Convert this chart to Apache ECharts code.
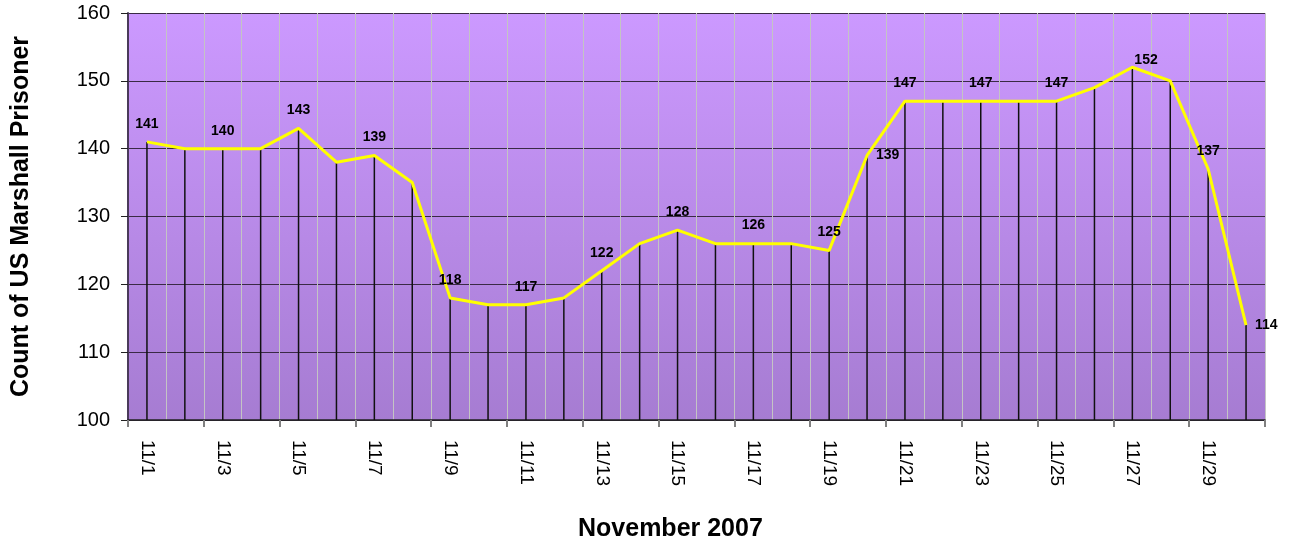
<!DOCTYPE html>
<html>
<head>
<meta charset="utf-8">
<script src="https://cdn.jsdelivr.net/npm/echarts@6/dist/echarts.min.js"></script>
<style>
  html, body { margin: 0; padding: 0; background: #fff; }
  #container { width: 1292px; height: 548px; }
</style>
</head>
<body>
<div id="container"></div>
<script>
var days = ['11/1','11/2','11/3','11/4','11/5','11/6','11/7','11/8','11/9','11/10',
            '11/11','11/12','11/13','11/14','11/15','11/16','11/17','11/18','11/19','11/20',
            '11/21','11/22','11/23','11/24','11/25','11/26','11/27','11/28','11/29','11/30'];

var prisoners = [141, 140, 140, 140, 143, 138, 139, 135, 118, 117,
                 117, 118, 122, 126, 128, 126, 126, 126, 125, 139,
                 147, 147, 147, 147, 147, 149, 152, 150, 137, 114];

// days whose value is written on the chart
var labelledDays = ['11/1','11/3','11/5','11/7','11/9','11/11','11/13','11/15','11/17','11/19',
                    '11/20','11/21','11/23','11/25','11/27','11/29','11/30'];
// these ones sit to the right of the point instead of above
var rightLabelDays = ['11/20', '11/30'];
// peak label sits up and to the right
var upRightLabelDays = ['11/27'];

var yTicks = [100, 110, 120, 130, 140, 150, 160];

var myChart = echarts.init(document.getElementById('container'));

var lineData = prisoners.map(function (v, i) {
    var d = days[i];
    var item = { value: v };
    if (labelledDays.indexOf(d) < 0) {
        item.label = { show: false };
    } else if (rightLabelDays.indexOf(d) >= 0) {
        item.label = { show: true, position: 'right', distance: 8 };
    } else if (upRightLabelDays.indexOf(d) >= 0) {
        item.label = { show: true, position: [3, -13] };
    }
    return item;
});

var option = {
    animation: false,
    grid: {
        left: 128,
        right: 27,
        top: 13,
        bottom: 128,
        show: true,
        borderWidth: 0,
        backgroundColor: new echarts.graphic.LinearGradient(0, 0, 0, 1, [
            { offset: 0, color: '#cc99ff' },
            { offset: 1, color: '#a67cd2' }
        ])
    },
    xAxis: {
        type: 'category',
        data: days,
        boundaryGap: true,
        axisLine: { show: true, lineStyle: { color: '#222', width: 1.5 } },
        axisTick: { show: true, interval: 1, length: 7, lineStyle: { color: '#808080', width: 2 } },
        axisLabel: {
            interval: 1,
            rotate: -90,
            margin: 20,
            color: '#000',
            fontFamily: 'Liberation Sans, Arial, sans-serif',
            fontSize: 19
        },
        splitLine: { show: true, interval: 0, lineStyle: { color: '#c4c4c4', width: 1 } }
    },
    yAxis: {
        type: 'value',
        min: yTicks[0],
        max: yTicks[yTicks.length - 1],
        interval: 10,
        name: 'Count of US Marshall Prisoner',
        nameLocation: 'middle',
        nameGap: 94,
        nameTextStyle: {
            color: '#000',
            fontFamily: 'Liberation Sans, Arial, sans-serif',
            fontSize: 25,
            fontWeight: 'bold'
        },
        axisLine: { show: true, lineStyle: { color: '#4a3a5a', width: 2 } },
        axisTick: { show: true, length: 7, lineStyle: { color: '#222' } },
        axisLabel: {
            margin: 18,
            color: '#000',
            fontFamily: 'Liberation Sans, Arial, sans-serif',
            fontSize: 20
        },
        splitLine: { show: true, lineStyle: { color: '#3a2a45', width: 1.2 } }
    },
    graphic: [{
        type: 'text',
        left: 578,
        top: 517,
        style: {
            text: 'November 2007',
            fill: '#000',
            font: 'bold 25px "Liberation Sans", Arial, sans-serif'
        }
    }],
    series: [
        {
            // drop lines from each point to the axis
            type: 'bar',
            data: prisoners,
            barWidth: 1.5,
            itemStyle: { color: '#111' },
            silent: true,
            z: 2
        },
        {
            type: 'line',
            data: lineData,
            symbol: 'circle',
            symbolSize: 2,
            showSymbol: true,
            itemStyle: { color: 'rgba(0,0,0,0)' },
            lineStyle: { color: '#ffff00', width: 3 },
            label: {
                show: true,
                position: 'top',
                distance: 10,
                color: '#000',
                fontFamily: 'Liberation Sans, Arial, sans-serif',
                fontSize: 14,
                fontWeight: 'bold'
            },
            labelLayout: { hideOverlap: false },
            z: 3
        }
    ]
};

myChart.setOption(option);
</script>
</body>
</html>
